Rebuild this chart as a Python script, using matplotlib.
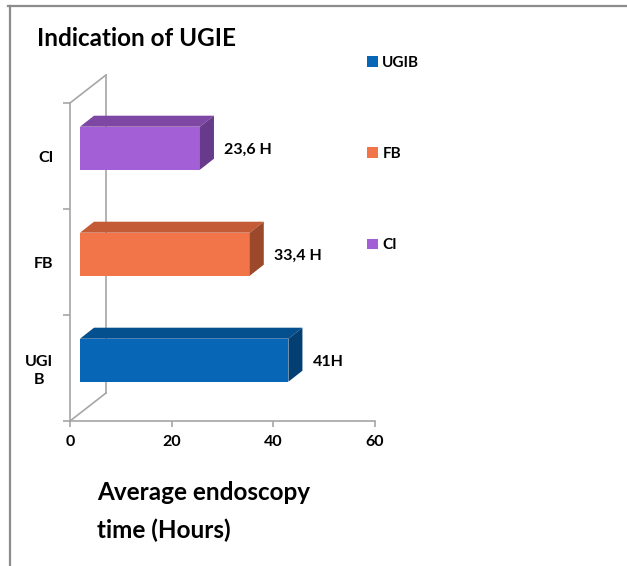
import matplotlib
matplotlib.use("Agg")
import matplotlib.pyplot as plt
from matplotlib.patches import Polygon
from matplotlib.lines import Line2D

# data
categories = ["UGIB", "FB", "CI"]
tick_labels = ["UGI\nB", "FB", "CI"]
values = [41, 33.4, 23.6]
value_labels = ["41H", "33,4 H", "23,6 H"]
x_ticks = [0, 20, 40, 60]

front_colors = ["#0767b6", "#f2754a", "#a35fd6"]
top_colors = ["#044f8e", "#c45b37", "#7d47a3"]
side_colors = ["#033f73", "#9c482b", "#673a8c"]
wall_color = "#a6a6a6"

plt.rcParams["font.family"] = ["Lato", "DejaVu Sans"]
plt.rcParams["font.weight"] = "bold"

W, H = 627, 566
fig = plt.figure(figsize=(W / 100, H / 100), dpi=100)
ax = fig.add_axes([70 / W, 1 - 421 / H, 305 / W, 318 / H])
ax.set_xlim(0, 60)
ax.set_ylim(-0.5, 2.5)
ax.patch.set_alpha(0)

# pixel -> data units
ux = 60 / 305
uy = 3 / 318

front_dx, front_dy = 10 * ux, 7.8 * uy   # bar front face offset from front plane
depth_dx, depth_dy = 14 * ux, 11 * uy    # bar depth
wall_dx, wall_dy = 36 * ux, 28 * uy      # back wall offset
bar_h = 43 * uy

# wall lines
ax.plot([0, wall_dx], [2.5, 2.5 + wall_dy], color=wall_color, lw=1.2, clip_on=False, zorder=1)
ax.plot([0, wall_dx], [-0.5, -0.5 + wall_dy], color=wall_color, lw=1.2, clip_on=False, zorder=1)
ax.plot([wall_dx, wall_dx], [-0.5 + wall_dy, 2.5 + wall_dy], color=wall_color, lw=1.2,
        clip_on=False, zorder=1)

ypos = [i + front_dy for i in range(len(categories))]
bars = ax.barh(ypos, values, left=front_dx, height=bar_h, color=front_colors,
               zorder=3, clip_on=False)

for i, v in enumerate(values):
    yt = ypos[i] + bar_h / 2
    yb = ypos[i] - bar_h / 2
    x0 = front_dx
    x1 = front_dx + v
    top = Polygon([(x0, yt), (x1, yt), (x1 + depth_dx, yt + depth_dy), (x0 + depth_dx, yt + depth_dy)],
                  closed=True, facecolor=top_colors[i], edgecolor="none", zorder=3, clip_on=False)
    side = Polygon([(x1, yb), (x1, yt), (x1 + depth_dx, yt + depth_dy), (x1 + depth_dx, yb + depth_dy)],
                   closed=True, facecolor=side_colors[i], edgecolor="none", zorder=3, clip_on=False)
    ax.add_patch(top)
    ax.add_patch(side)
    ax.annotate(value_labels[i], (x1, ypos[i]), xytext=(24, -2), textcoords="offset pixels",
                va="center", ha="left", fontsize=11.5, fontweight="bold")

# axes styling
for s in ["top", "right"]:
    ax.spines[s].set_visible(False)
for s in ["left", "bottom"]:
    ax.spines[s].set_color(wall_color)
    ax.spines[s].set_linewidth(1.2)

ax.set_xticks(x_ticks)
ax.tick_params(axis="x", direction="out", length=4, width=1.2, color=wall_color,
               labelsize=11.5, pad=6)
ax.set_yticks([0, 1, 2], tick_labels)
ax.set_yticks([-0.5, 0.5, 1.5, 2.5], minor=True)
ax.tick_params(axis="y", which="major", length=0, labelsize=11.5, pad=12)
ax.tick_params(axis="y", which="minor", length=5, width=1.2, color=wall_color)
for lab in ax.get_yticklabels():
    lab.set_multialignment("center")
    lab.set_linespacing(1.3)

# titles
fig.text(37 / W, 1 - 38 / H, "Indication of UGIE", fontsize=17.5, fontweight="bold",
         va="center", ha="left")
fig.text(97 / W, 1 - 481 / H, "Average endoscopy\ntime (Hours)", fontsize=17.5,
         fontweight="bold", va="top", ha="left", linespacing=1.75)

# legend
fig.legend(handles=list(bars.patches), labels=categories, loc="upper left",
           bbox_to_anchor=(367 / W, 1 - 56 / H), frameon=False, handlelength=0.7,
           handleheight=0.7, handletextpad=0.3, labelspacing=5.05, fontsize=11,
           borderpad=0, borderaxespad=0)

# frame lines
fig.add_artist(Line2D([10 / W, 10 / W], [0, 1 - 6 / H], color="#8c8c8c", lw=1.6))
fig.add_artist(Line2D([8 / W, 1], [1 - 6 / H, 1 - 6 / H], color="#8c8c8c", lw=1.6))

fig.savefig("out.png", dpi=100)
